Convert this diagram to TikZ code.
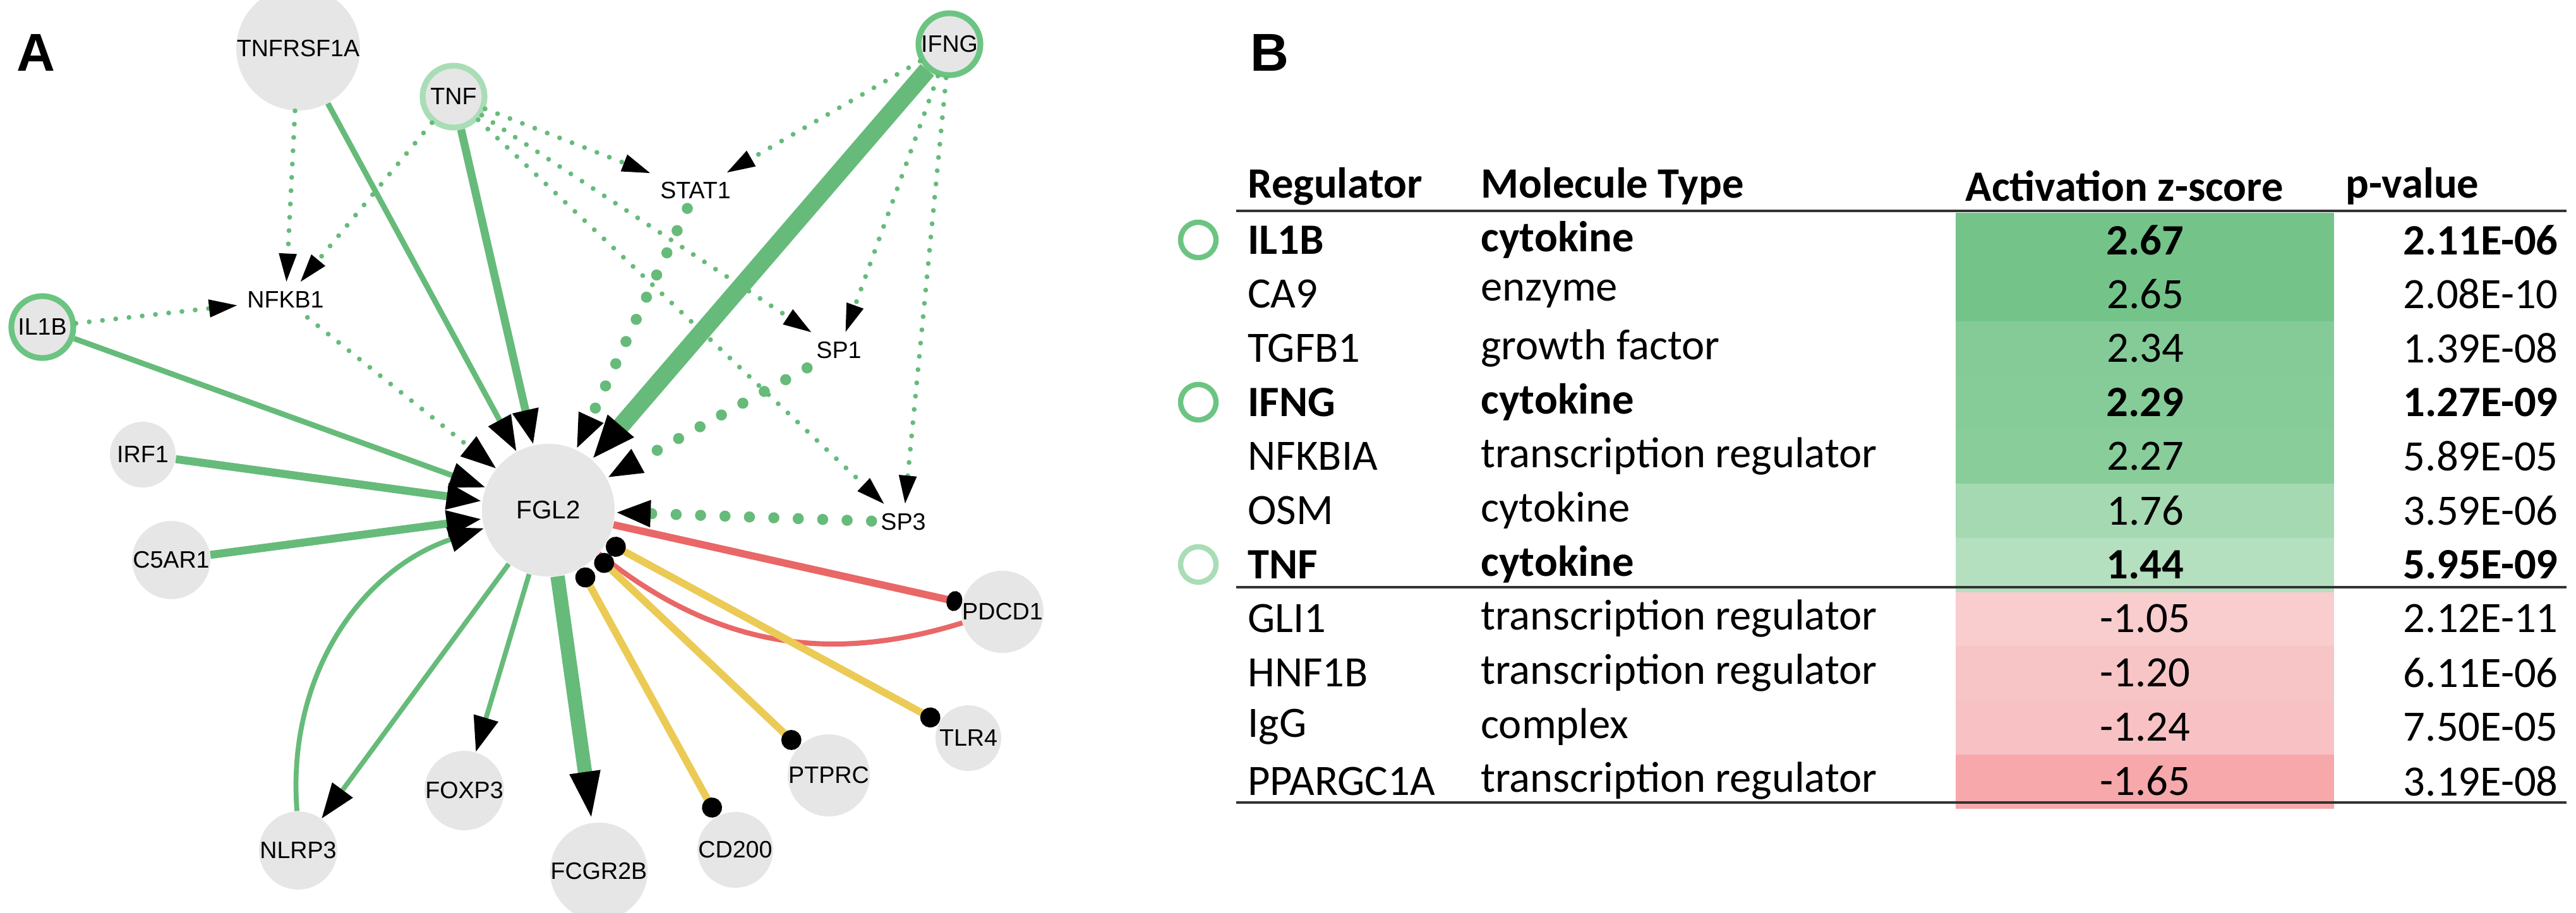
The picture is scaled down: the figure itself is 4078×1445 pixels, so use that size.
\documentclass[tikz,border=0pt]{standalone}
\usepackage{fontspec}
\setmainfont{Carlito}
\newfontfamily\netfont{Liberation Sans}
\usetikzlibrary{arrows.meta}
\definecolor{eg}{HTML}{66BB7A}
\definecolor{er}{HTML}{E96767}
\definecolor{ey}{HTML}{EBCB55}
\definecolor{ng}{HTML}{E6E6E6}
\definecolor{ring}{HTML}{6CC482}
\definecolor{ringl}{HTML}{A9DDB6}
\definecolor{rl}{HTML}{333333}
\begin{document}
\begin{tikzpicture}[x=0.01cm,y=-0.01cm,
  nd/.style={circle,fill=ng,minimum size=1.04cm,inner sep=0pt,font=\netfont\fontsize{10.7}{12}\selectfont},
  big/.style={circle,fill=ng,minimum size=2.1cm,inner sep=0pt,font=\netfont\fontsize{11.5}{13}\selectfont},
  tx/.style={inner sep=4pt,font=\netfont\fontsize{10.7}{12}\selectfont},
  act/.style={nd,draw=ring,line width=2.6pt,minimum size=0.98cm},
  actl/.style={nd,draw=ringl,line width=2.6pt,minimum size=0.98cm},
  sg/.style={draw=eg,-{Triangle[length=16pt,width=11pt,color=black]}},
  sdot/.style={draw=eg,line width=2.2pt,dash pattern=on 0pt off 6pt,line cap=round,-{Triangle[length=13pt,width=7.5pt,color=black]}},
  bdot/.style={draw=eg,line width=5pt,dash pattern=on 0pt off 11pt,line cap=round,-{Triangle[length=16pt,width=11pt,color=black]}},
  inh/.style={draw=ey,line width=3.3pt,{Circle[length=9pt,color=black]}-{Circle[length=9pt,color=black]}},
  cell/.style={draw=none},
  tc/.style={font=\fontsize{19.5}{22}\selectfont},
  reg/.style={tc,anchor=west},
  rc/.style={draw=#1,line width=2.4pt}
]
\useasboundingbox (0,0) rectangle (4078,1445);
% ---------------- Panel A
\node[font=\netfont\bfseries\fontsize{24}{28}\selectfont] (labA) at (57,83) {A};
\node[big] (fgl2) at (868,808) {FGL2};
\node[nd] (tnfr) at (472,77) {TNFRSF1A};
\node[actl] (tnf) at (718,153) {TNF};
\node[act] (ifng) at (1503,70) {IFNG};
\node[act] (il1b) at (67,518) {IL1B};
\node[nd] (irf1) at (226,720) {IRF1};
\node[nd] (c5ar1) at (271,887) {C5AR1};
\node[nd] (nlrp3) at (472,1347) {NLRP3};
\node[nd] (foxp3) at (735,1252) {FOXP3};
\node[nd] (fcgr) at (948,1380) {FCGR2B};
\node[nd] (cd200) at (1164,1346) {CD200};
\node[nd] (ptprc) at (1312,1228) {PTPRC};
\node[nd] (tlr4) at (1533,1169) {TLR4};
\node[nd] (pdcd1) at (1587,969) {PDCD1};
\node[tx] (stat1) at (1101,302) {STAT1};
\node[tx] (nfkb1) at (452,475) {NFKB1};
\node[tx] (sp1) at (1328,555) {SP1};
\node[tx] (sp3) at (1430,827) {SP3};
% dotted edges
\draw[sdot] (tnfr) -- (nfkb1);
\draw[sdot] (tnf) -- (nfkb1);
\draw[sdot] (il1b) -- (nfkb1);
\draw[sdot] (tnf) -- (stat1);
\draw[sdot] (ifng) -- (stat1);
\draw[sdot] (tnf) -- (sp1);
\draw[sdot] (ifng) -- (sp1);
\draw[sdot] (tnf) -- (sp3);
\draw[sdot] (ifng) -- (sp3);
\draw[sdot,-{Triangle[length=16pt,width=11pt,color=black]}] (nfkb1) -- (fgl2);
\draw[bdot] (stat1) -- (fgl2);
\draw[bdot] (sp1) -- (fgl2);
\draw[bdot] (sp3) -- (fgl2);
% solid edges
\draw[sg,line width=2.5pt] (tnfr) -- (fgl2);
\draw[sg,line width=3.6pt] (tnf) -- (fgl2);
\draw[sg,line width=8pt,-{Triangle[length=20pt,width=14pt,color=black]}] (ifng) -- (fgl2);
\draw[sg,line width=2.5pt] (il1b) -- (fgl2);
\draw[sg,line width=3.6pt] (irf1) -- (fgl2);
\draw[sg,line width=3.6pt] (c5ar1) -- (fgl2);
\draw[sg,line width=2.2pt] (nlrp3) to[bend left=38] (fgl2);
\draw[sg,line width=2.2pt] (fgl2) -- (nlrp3);
\draw[sg,line width=2.2pt] (fgl2) -- (foxp3);
\draw[sg,line width=6.4pt,-{Triangle[length=23pt,width=12pt,color=black]}] (fgl2) -- (fcgr);
% red and yellow
\draw[draw=er,line width=3.3pt,-{Circle[length=7pt,width=9pt,color=black]}] (fgl2) -- (pdcd1);
\draw[draw=er,line width=2.3pt] (pdcd1) to[bend left=28] (fgl2);
\draw[inh] (fgl2) -- (cd200);
\draw[inh] (fgl2) -- (ptprc);
\draw[inh] (fgl2) -- (tlr4);
% ---------------- Panel B
\node[font=\netfont\bfseries\fontsize{24}{28}\selectfont] (labB) at (2010,83) {B};
% coloured cells
\foreach \i/\c in {0/74C48A,1/74C48A,2/85CB98,3/86CC99,4/88CD9A,5/A5D9B1,6/B5E0C0,7/F9CCCD,8/F8C5C7,9/F8C2C4,10/F6A8AB}{
  \definecolor{cc}{HTML}{\c}
  \fill[cc] (3096,{337+85.8*\i}) rectangle (3695,{337+85.8*(\i+1)});
}
\draw[rl,line width=1.2pt] (1957,334) -- (4063,334);
\draw[rl,line width=1.2pt] (1957,930) -- (4063,930);
\draw[rl,line width=1.2pt] (1957,1271) -- (4063,1271);
% header
\node[reg,font=\bfseries\fontsize{19.5}{22}\selectfont] (h1) at (1963,295) {Regulator};
\node[reg,font=\bfseries\fontsize{19.5}{22}\selectfont] (h2) at (2332,295) {Molecule Type};
\node[reg,font=\bfseries\fontsize{19.5}{22}\selectfont] (h3) at (3099,295) {Activation z-score};
\node[reg,font=\bfseries\fontsize{19.5}{22}\selectfont] (h4) at (3701,295) {p-value};
% rows
\foreach \i/\r/\m/\z/\p/\b in {
 0/IL1B/cytokine/2.67/2.11E-06/1,
 1/CA9/enzyme/2.65/2.08E-10/0,
 2/TGFB1/growth factor/2.34/1.39E-08/0,
 3/IFNG/cytokine/2.29/1.27E-09/1,
 4/NFKBIA/transcription regulator/2.27/5.89E-05/0,
 5/OSM/cytokine/1.76/3.59E-06/0,
 6/TNF/cytokine/1.44/5.95E-09/1,
 7/GLI1/transcription regulator/-1.05/2.12E-11/0,
 8/HNF1B/transcription regulator/-1.20/6.11E-06/0,
 9/IgG/complex/-1.24/7.50E-05/0,
 10/PPARGC1A/transcription regulator/-1.65/3.19E-08/0}{
  \pgfmathsetmacro{\yy}{380+85.7*\i}
  \ifnum\b=1 \def\ff{\bfseries}\else\def\ff{}\fi
  \node[anchor=west,font=\ff\fontsize{19.5}{22}\selectfont] (r\i) at (1963,\yy) {\r};
  \node[anchor=west,font=\ff\fontsize{19.5}{22}\selectfont] (m\i) at (2332,\yy) {\m};
  \node[anchor=center,font=\ff\fontsize{19.5}{22}\selectfont] (z\i) at (3396,\yy) {\z};
  \node[anchor=east,font=\ff\fontsize{19.5}{22}\selectfont] (p\i) at (4062,\yy) {\p};
}
\node[circle,draw=ring,line width=2.4pt,minimum size=0.56cm,inner sep=0pt] (c1) at (1897,380) {};
\node[circle,draw=ring,line width=2.4pt,minimum size=0.56cm,inner sep=0pt] (c2) at (1897,637) {};
\node[circle,draw=ringl,line width=2.4pt,minimum size=0.56cm,inner sep=0pt] (c3) at (1897,894) {};
\end{tikzpicture}
\end{document}
